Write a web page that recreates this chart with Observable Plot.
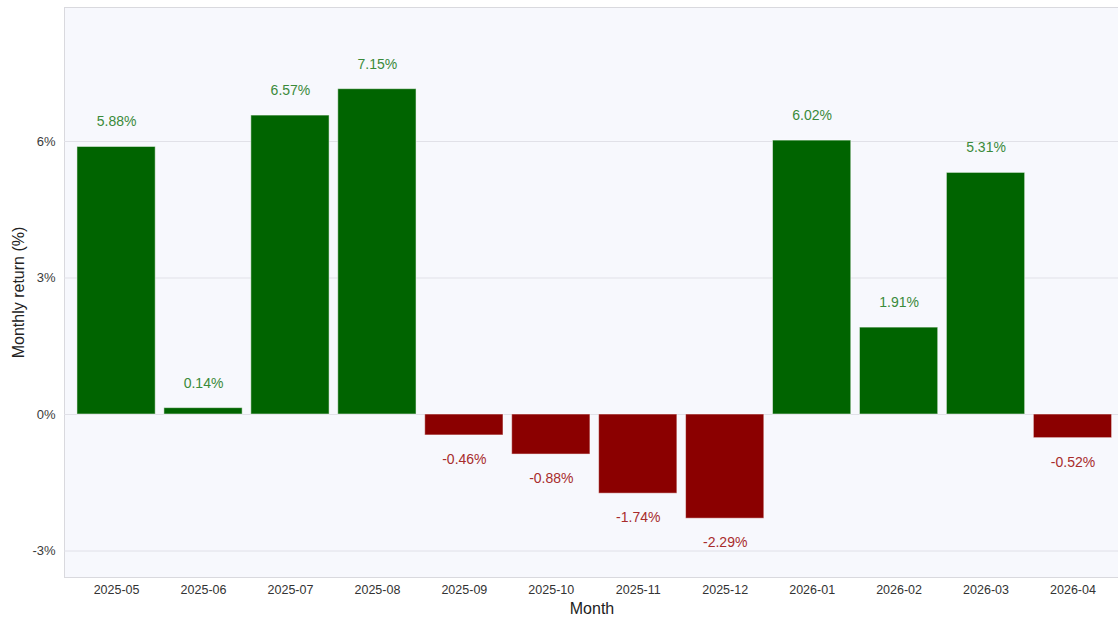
<!DOCTYPE html>
<html>
<head>
<meta charset="utf-8">
<script src="https://cdn.jsdelivr.net/npm/d3@7"></script>
<script src="https://cdn.jsdelivr.net/npm/@observablehq/plot@0.6"></script>
<style>
  html, body { margin: 0; padding: 0; background: #ffffff; }
  #chart svg { display: block; }
</style>
</head>
<body>
<div id="chart"></div>
<script>
const months = ["2025-05","2025-06","2025-07","2025-08","2025-09","2025-10","2025-11","2025-12","2026-01","2026-02","2026-03","2026-04"];
const returns = [5.88, 0.14, 6.57, 7.15, -0.46, -0.88, -1.74, -2.29, 6.02, 1.91, 5.31, -0.52];
const yTicks = [-3, 0, 3, 6];

const data = months.map((m, i) => ({month: m, value: returns[i]}));
const pos = data.filter(d => d.value >= 0);
const neg = data.filter(d => d.value < 0);

const font = "'Liberation Sans', Arial, Helvetica, sans-serif";

const chart = Plot.plot({
  width: 1118,
  height: 621,
  marginLeft: 64,
  marginRight: -1,
  marginTop: 7,
  marginBottom: 44,
  style: {fontFamily: font, background: "#ffffff", overflow: "visible"},
  x: {domain: months, range: [68.25, 1120.3], padding: 0.1, round: false, label: null},
  y: {domain: [-3.582, 8.945], label: null},
  marks: [
    Plot.frame({fill: "#f7f8fd", stroke: "#d9d9de"}),
    Plot.ruleY(yTicks, {stroke: "#e1e1e8", strokeWidth: 1}),
    Plot.barY(data, {x: "month", y: "value", fill: d => d.value >= 0 ? "#006400" : "#8b0000", stroke: "#ffffff", strokeOpacity: 0.5, strokeWidth: 1}),
    Plot.text(pos, {x: "month", y: "value", text: d => d.value.toFixed(2) + "%", dy: -25, fill: "#3a8a3a", fontSize: 14}),
    Plot.text(neg, {x: "month", y: "value", text: d => d.value.toFixed(2) + "%", dy: 24, fill: "#a82c2c", fontSize: 14}),
    Plot.axisY({ticks: yTicks, tickFormat: d => d + "%", tickSize: 0, tickPadding: 9, fontSize: 13, color: "#3a3a3a", label: null}),
    Plot.axisX({tickSize: 0, tickPadding: 8, fontSize: 12.5, color: "#333", label: null}),
    Plot.text(["Month"], {frameAnchor: "bottom", dy: 36, fontSize: 16, fill: "#222"}),
    Plot.text(["Monthly return (%)"], {frameAnchor: "left", textAnchor: "middle", lineAnchor: "middle", dx: -46, rotate: -90, fontSize: 16, fill: "#222"})
  ]
});
document.getElementById("chart").appendChild(chart);
</script>
</body>
</html>
